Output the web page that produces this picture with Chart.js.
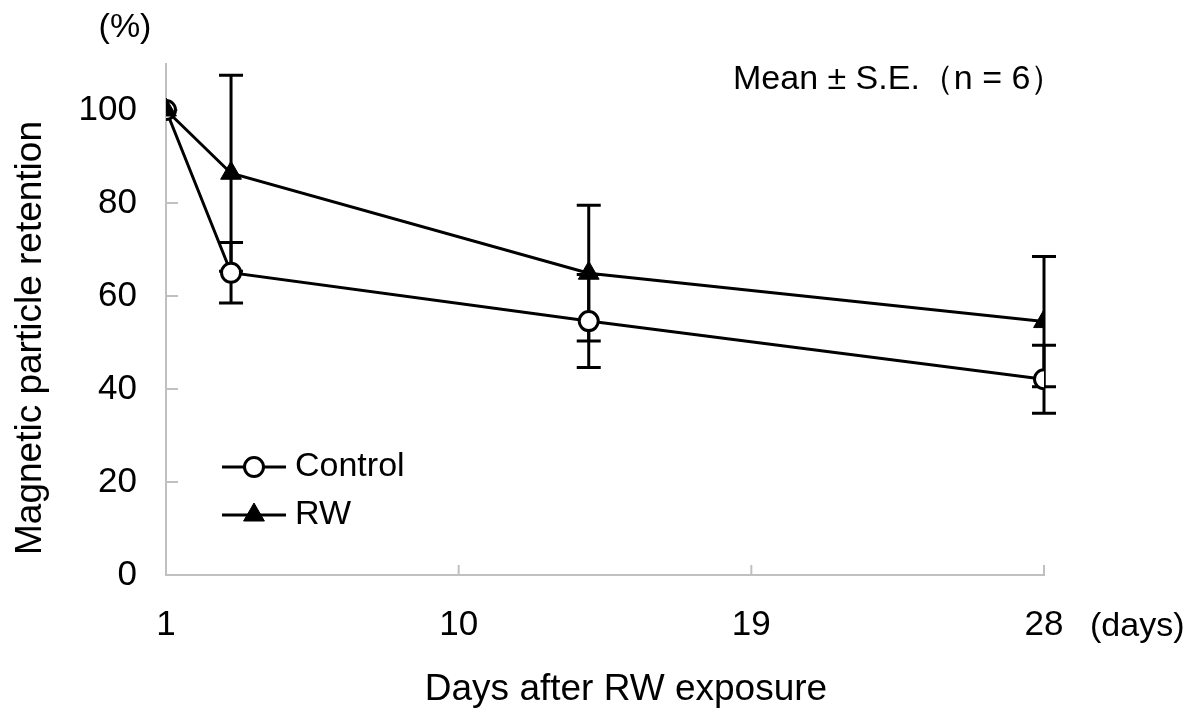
<!DOCTYPE html>
<html>
<head>
<meta charset="utf-8">
<script src="https://cdn.jsdelivr.net/npm/chart.js@4.4.1/dist/chart.umd.min.js"></script>
<style>
  html, body { margin: 0; padding: 0; background: #fff; }
  #wrap { width: 1200px; height: 724px; position: relative; }
</style>
</head>
<body>
<div id="wrap"><canvas id="myChart"></canvas></div>
<script>
const days = [1, 3, 14, 28]
const controlMean = [100, 65.0, 54.6, 42.1]
const controlSE = [0, 6.5, 10.0, 7.3]
const rwMean = [100, 86.4, 64.9, 54.5]
const rwSE = [0, 21.1, 14.6, 14.0]
const seriesLabels = ["Control", "RW"]
const xTicks = [1, 10, 19, 28]
const yTicks = [0, 20, 40, 60, 80, 100]

const FONT = "'Liberation Sans', Arial, sans-serif"
const AXIS_GRAY = "#c0c0c0"

// error bars, inward tick marks, legend and the loose labels
const extras = {
    id: "extras",
    beforeDatasetsDraw(chart) {
        const ctx = chart.ctx, sx = chart.scales.x, sy = chart.scales.y
        ctx.save()
        ctx.strokeStyle = AXIS_GRAY
        ctx.lineWidth = 2
        sy.ticks.forEach(t => {
            const py = sy.getPixelForValue(t.value)
            ctx.beginPath(); ctx.moveTo(sx.left, py); ctx.lineTo(sx.left + 12, py); ctx.stroke()
        })
        sx.ticks.forEach(t => {
            if (t.value === sx.min) return
            const px = sx.getPixelForValue(t.value)
            ctx.beginPath(); ctx.moveTo(px, sy.bottom); ctx.lineTo(px, sy.bottom - 10); ctx.stroke()
        })
        ctx.strokeStyle = "#000"
        ctx.lineWidth = 3
        chart.data.datasets.forEach(ds => {
            ds.errors.forEach((e, i) => {
                if (!e) return
                const px = sx.getPixelForValue(ds.data[i].x)
                const top = sy.getPixelForValue(ds.data[i].y + e)
                const bot = sy.getPixelForValue(ds.data[i].y - e)
                ctx.beginPath()
                ctx.moveTo(px, top); ctx.lineTo(px, bot)
                ctx.moveTo(px - 12, top); ctx.lineTo(px + 12, top)
                ctx.moveTo(px - 12, bot); ctx.lineTo(px + 12, bot)
                ctx.stroke()
            })
        })
        ctx.restore()
    },
    afterDraw(chart) {
        const ctx = chart.ctx
        ctx.save()
        ctx.fillStyle = "#000"
        ctx.textBaseline = "middle"
        ctx.font = "34px " + FONT
        ctx.textAlign = "center"
        ctx.fillText("(%)", 125, 28)
        ctx.textAlign = "left"
        ctx.fillText("Mean ± S.E.（n = 6）", 733, 80)
        ctx.fillText("(days)", 1090, 627)

        ctx.font = "37px " + FONT
        ctx.textAlign = "center"
        ctx.fillText("Days after RW exposure", 626, 690)
        ctx.save()
        ctx.translate(31, 338)
        ctx.rotate(-Math.PI / 2)
        ctx.fillText("Magnetic particle retention", 0, 0)
        ctx.restore()

        // legend: line with the marker in its middle
        chart.data.datasets.forEach((ds, i) => {
            const ly = 467 + i * 48
            ctx.strokeStyle = "#000"
            ctx.lineWidth = 3
            ctx.beginPath(); ctx.moveTo(222, ly); ctx.lineTo(286, ly); ctx.stroke()
            ctx.fillStyle = ds.pointBackgroundColor
            ctx.strokeStyle = ds.pointBorderColor
            ctx.lineWidth = ds.pointBorderWidth
            Chart.helpers.drawPoint(ctx, {pointStyle: ds.pointStyle, radius: ds.pointRadius, borderWidth: ds.pointBorderWidth, rotation: 0}, 254, ly)
            ctx.fillStyle = "#000"
            ctx.font = "34px " + FONT
            ctx.textAlign = "left"
            ctx.fillText(ds.label, 295, ly)
        })
        ctx.restore()
    }
}

new Chart("myChart", {
    type: "line",
    data: {
        datasets: [{
            label: seriesLabels[0],
            data: days.map((d, i) => ({x: d, y: controlMean[i]})),
            errors: controlSE,
            borderColor: "#000",
            borderWidth: 3,
            pointStyle: "circle",
            pointRadius: 9.5,
            pointBorderWidth: 3,
            pointBackgroundColor: "#fff",
            pointBorderColor: "#000",
            tension: 0,
            order: 2
        }, {
            label: seriesLabels[1],
            data: days.map((d, i) => ({x: d, y: rwMean[i]})),
            errors: rwSE,
            borderColor: "#000",
            borderWidth: 3,
            pointStyle: "triangle",
            pointRadius: 12,
            pointBorderWidth: 1,
            pointBackgroundColor: "#000",
            pointBorderColor: "#000",
            tension: 0,
            order: 1
        }]
    },
    options: {
        responsive: true,
        maintainAspectRatio: false,
        animation: false,
        layout: {padding: {left: 0, right: 156, top: 63.5, bottom: 0}},
        plugins: {legend: {display: false}, tooltip: {enabled: false}},
        scales: {
            x: {
                type: "linear",
                min: 1,
                max: 28,
                afterFit(scale) { scale.height = 149 },
                afterBuildTicks(scale) { scale.ticks = xTicks.map(v => ({value: v})) },
                grid: {display: false, drawTicks: false},
                border: {color: AXIS_GRAY, width: 2},
                ticks: {color: "#000", font: {family: FONT, size: 35}, padding: 29, maxRotation: 0}
            },
            y: {
                min: 0,
                max: 110,
                afterFit(scale) { scale.width = 166 },
                afterBuildTicks(scale) { scale.ticks = yTicks.map(v => ({value: v})) },
                grid: {display: false, drawTicks: false},
                border: {color: AXIS_GRAY, width: 2},
                ticks: {color: "#000", font: {family: FONT, size: 35}, padding: 29}
            }
        }
    },
    plugins: [extras]
})
</script>
</body>
</html>
